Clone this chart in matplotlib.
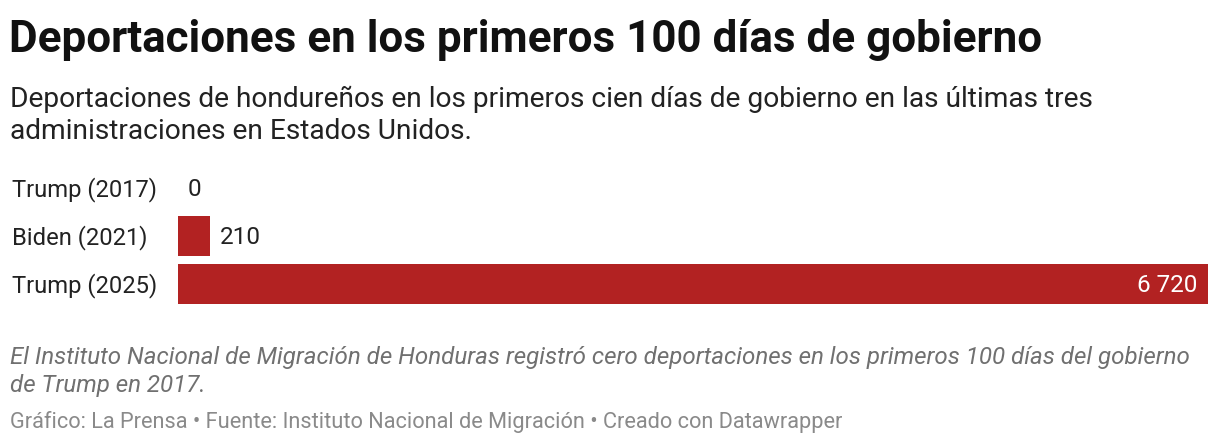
import matplotlib.pyplot as plt
from matplotlib.transforms import blended_transform_factory

# Datos
categorias = ["Trump (2017)", "Biden (2021)", "Trump (2025)"]
deportaciones = [0, 210, 6720]
etiquetas = ["0", "210", "6 720"]

titulo = "Deportaciones en los primeros 100 días de gobierno"
subtitulo = ["Deportaciones de hondureños en los primeros cien días de gobierno en las últimas tres",
             "administraciones en Estados Unidos."]
nota = ["El Instituto Nacional de Migración de Honduras registró cero deportaciones en los primeros 100 días del gobierno",
        "de Trump en 2017."]
fuente = "Gráfico: La Prensa • Fuente: Instituto Nacional de Migración • Creado con Datawrapper"

plt.rcParams['font.family'] = ['Roboto', 'DejaVu Sans']
W, H = 1220, 446
fig = plt.figure(figsize=(W / 100, H / 100), dpi=100)
fig.patch.set_facecolor('white')

def px(x, y):
    return x / W, 1 - y / H

color_barra = '#b22222'

ax = fig.add_axes([178 / W, 1 - 308 / H, 1030 / W, 144 / H])
y = range(len(categorias))
ax.barh(y, deportaciones, height=0.833, color=color_barra)
ax.set_xlim(0, max(deportaciones))
ax.set_ylim(len(categorias) - 0.5, -0.5)
ax.axis('off')

# etiquetas de categoria y valores
trans = blended_transform_factory(fig.transFigure, ax.transData)
for i, (v, t) in enumerate(zip(deportaciones, etiquetas)):
    ax.text(12 / W, i - 0.03, categorias[i], transform=trans, fontsize=17.1,
            color='#222222', ha='left', va='center_baseline')
    if v > max(deportaciones) * 0.5:
        ax.text(v - 70, i - 0.03, t, ha='right', va='center_baseline', fontsize=17.5, color='white')
    else:
        ax.text(v + 62, i - 0.03, t, ha='left', va='center_baseline', fontsize=17.5, color='#222222')

fig.text(*px(9, 52), titulo, fontsize=31.7, fontweight='bold', color='#111111', va='baseline')
for k, linea in enumerate(subtitulo):
    fig.text(*px(10, 107 + 32 * k), linea, fontsize=20.25, color='#222222', va='baseline')
for k, linea in enumerate(nota):
    fig.text(*px(10, 364 + 28 * k), linea, fontsize=17.4, style='italic', color='#707070', va='baseline')
fig.text(*px(10, 428), fuente, fontsize=15.7, color='#8a8a8a', va='baseline')

fig.savefig('out.png', dpi=100)
